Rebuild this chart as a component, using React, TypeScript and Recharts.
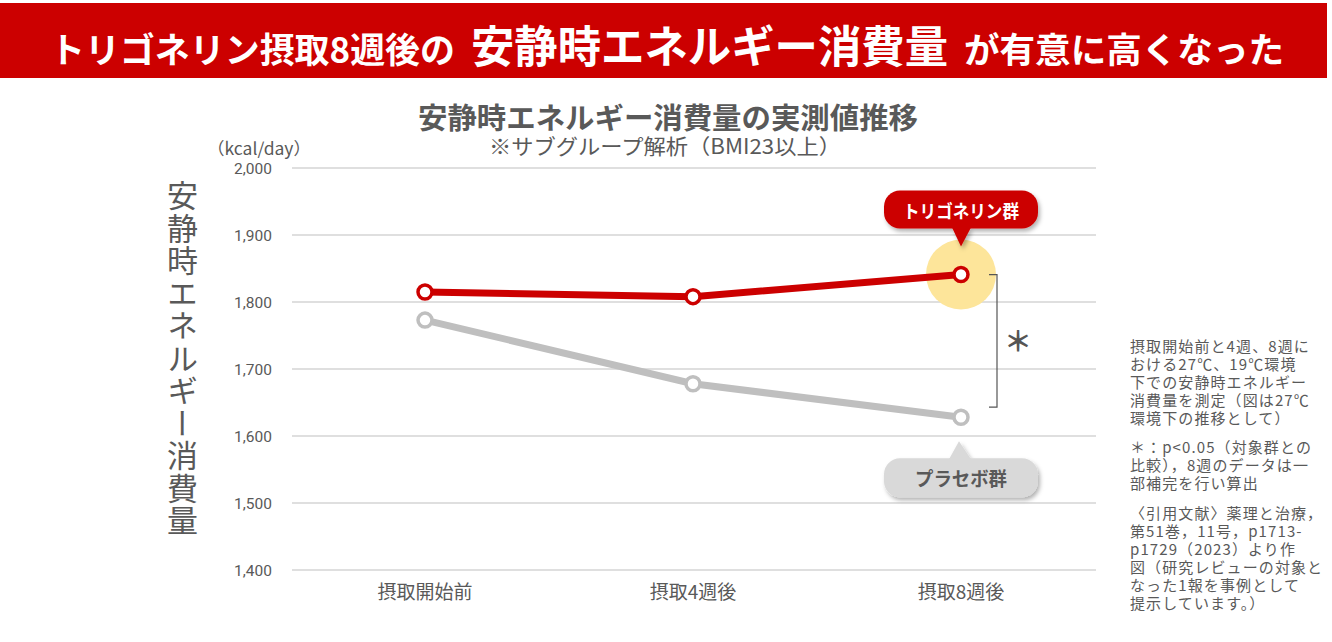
import React from 'react';
import { LineChart, Line, XAxis, YAxis, CartesianGrid, ReferenceDot, ReferenceLine } from 'recharts';

const categories = ['摂取開始前', '摂取4週後', '摂取8週後'];
const trigonelline = [1815, 1808, 1841];
const placebo = [1773, 1678, 1628];
const yTicks = [1400, 1500, 1600, 1700, 1800, 1900, 2000];
const bracketBottom = 1643;

const notesP1 = [
  '摂取開始前と4週、8週に',
  'おける27℃、19℃環境',
  '下での安静時エネルギー',
  '消費量を測定（図は27℃',
  '環境下の推移として）',
];
const notesP2 = ['＊：p<0.05（対象群との', '比較），8週のデータは一', '部補完を行い算出'];
const notesP3 = [
  '〈引用文献〉薬理と治療，',
  '第51巻，11号，p1713-',
  'p1729（2023）より作',
  '図（研究レビューの対象と',
  'なった1報を事例として',
  '提示しています。）',
];

const data = categories.map((label, i) => ({
  label,
  trigonelline: trigonelline[i],
  placebo: placebo[i],
}));

const JP = '"Noto Sans CJK JP", "Noto Sans", sans-serif';
const RED = '#cc0000';
const GRAY_LINE = '#bfbfbf';
const TEXT = '#595959';

const Shadow = ({ id }: { id: string }) => (
  <defs>
    <filter id={id} x="-20%" y="-40%" width="140%" height="190%">
      <feDropShadow dx="2" dy="3" stdDeviation="2" floodColor="#000" floodOpacity="0.3" />
    </filter>
  </defs>
);

const Highlight = (props: any) => {
  const { cx, cy } = props;
  if (cx == null || cy == null) return null;
  return <circle cx={cx} cy={cy} r={35} fill="#fde59a" />;
};

const RedCallout = (props: any) => {
  const { cx, cy } = props;
  if (cx == null || cy == null) return null;
  const top = cy - 84;
  const bottom = cy - 46;
  const left = cx - 77;
  return (
    <g>
      <Shadow id="redShadow" />
      <g filter="url(#redShadow)">
        <rect x={left} y={top} width={154} height={bottom - top} rx={16} ry={16} fill={RED} />
        <polygon points={`${cx - 9},${bottom - 1} ${cx + 10},${bottom - 1} ${cx},${cy - 28}`} fill={RED} />
      </g>
      <text
        x={cx}
        y={(top + bottom) / 2}
        textAnchor="middle"
        dominantBaseline="central"
        fontFamily={JP}
        fontSize={18}
        fontWeight={700}
        fill="#ffffff"
        textLength={116}
        lengthAdjust="spacingAndGlyphs"
      >
        トリゴネリン群
      </text>
    </g>
  );
};

const GrayCallout = (props: any) => {
  const { cx, cy } = props;
  if (cx == null || cy == null) return null;
  const top = cy + 41;
  const bottom = cy + 80;
  const left = cx - 77;
  return (
    <g>
      <Shadow id="grayShadow" />
      <g filter="url(#grayShadow)">
        <rect x={left} y={top} width={154} height={bottom - top} rx={16} ry={16} fill="#d9d9d9" />
        <polygon points={`${cx - 12},${top + 1} ${cx + 10},${top + 1} ${cx - 2},${cy + 24}`} fill="#d9d9d9" />
      </g>
      <text
        x={cx}
        y={(top + bottom) / 2}
        textAnchor="middle"
        dominantBaseline="central"
        fontFamily={JP}
        fontSize={19}
        fontWeight={700}
        fill={TEXT}
        textLength={92}
        lengthAdjust="spacingAndGlyphs"
      >
        プラセボ群
      </text>
    </g>
  );
};

const Bracket = (props: any) => {
  const { x1, y1, y2 } = props;
  if (x1 == null) return null;
  const x = x1 + 36;
  return (
    <g>
      <path d={`M${x - 8},${y1} H${x} V${y2} H${x - 8}`} fill="none" stroke="#555555" strokeWidth={1.2} />
      <text
        x={x + 21}
        y={(y1 + y2) / 2 - 1}
        textAnchor="middle"
        dominantBaseline="central"
        fontFamily={JP}
        fontSize={28}
        fontWeight={700}
        fill="#555555"
      >
        ＊
      </text>
    </g>
  );
};

const noteLine = (t: string, y: number) => (
  <text key={t} x={1130} y={y} dominantBaseline="central" fontFamily={JP} fontSize={15} letterSpacing={1.1} fill={TEXT}>
    {t}
  </text>
);

export default function App() {
  return (
    <div style={{ position: 'absolute', left: 0, top: 0, width: 1332, height: 642, background: '#fff' }}>
      <svg width={1332} height={642} style={{ position: 'absolute', left: 0, top: 0 }}>
        <rect x={0} y={3} width={1327} height={75} fill={RED} />
        <text x={50} y={47} dominantBaseline="central" fontFamily={JP} fontSize={35} fontWeight={700} fill="#fff" textLength={405} lengthAdjust="spacingAndGlyphs">
          トリゴネリン摂取8週後の
        </text>
        <text x={471} y={44} dominantBaseline="central" fontFamily={JP} fontSize={44} fontWeight={700} fill="#fff" textLength={477} lengthAdjust="spacingAndGlyphs">
          安静時エネルギー消費量
        </text>
        <text x={964} y={47} dominantBaseline="central" fontFamily={JP} fontSize={35} fontWeight={700} fill="#fff" textLength={320} lengthAdjust="spacingAndGlyphs">
          が有意に高くなった
        </text>
        <text x={668} y={116} textAnchor="middle" dominantBaseline="central" fontFamily={JP} fontSize={29} fontWeight={700} fill={TEXT} textLength={500} lengthAdjust="spacingAndGlyphs">
          安静時エネルギー消費量の実測値推移
        </text>
        <text x={665} y={145} textAnchor="middle" dominantBaseline="central" fontFamily={JP} fontSize={21} fill={TEXT} textLength={352} lengthAdjust="spacingAndGlyphs">
          ※サブグループ解析（BMI23以上）
        </text>
        <text x={207} y={147} dominantBaseline="central" fontFamily={JP} fontSize={17} fill={TEXT} textLength={104} lengthAdjust="spacingAndGlyphs">
          （kcal/day）
        </text>
        {notesP1.map((t, i) => noteLine(t, 345 + i * 18))}
        {notesP2.map((t, i) => noteLine(t, 446 + i * 18))}
        {notesP3.map((t, i) => noteLine(t, 512 + i * 18))}
      </svg>
      <div
        style={{
          position: 'absolute',
          left: 166,
          top: 180,
          writingMode: 'vertical-rl',
          fontFamily: JP,
          fontSize: 31,
          lineHeight: '32px',
          letterSpacing: 1.5,
          color: TEXT,
          whiteSpace: 'nowrap',
        }}
      >
        安静時エネルギー消費量
      </div>
      <div style={{ position: 'absolute', left: 0, top: 0 }}>
        <LineChart width={1332} height={642} data={data} margin={{ top: 168, right: 236, bottom: 42, left: 232 }}>
          <CartesianGrid vertical={false} stroke="#bfbfbf" strokeWidth={1} />
          <XAxis
            dataKey="label"
            padding={{ left: 133, right: 135 }}
            axisLine={false}
            tickLine={false}
            tickSize={0}
            tickMargin={16}
            height={30}
            tick={{ fontSize: 19, fill: TEXT, fontFamily: JP }}
          />
          <YAxis
            domain={[1400, 2000]}
            ticks={yTicks}
            interval={0}
            width={60}
            axisLine={false}
            tickLine={false}
            tickSize={0}
            tickMargin={20}
            tickFormatter={(v: number) => v.toLocaleString('en-US')}
            tick={{ fontSize: 15.5, fill: TEXT, fontFamily: 'Roboto, sans-serif' }}
          />
          <ReferenceDot x={categories[2]} y={trigonelline[2]} r={35} shape={Highlight} zIndex={50} />
          <Line
            type="linear"
            dataKey="placebo"
            stroke={GRAY_LINE}
            strokeWidth={7}
            dot={{ r: 7, fill: '#fff', stroke: GRAY_LINE, strokeWidth: 3.5 }}
            activeDot={false}
            isAnimationActive={false}
          />
          <Line
            type="linear"
            dataKey="trigonelline"
            stroke={RED}
            strokeWidth={7}
            dot={{ r: 7, fill: '#fff', stroke: RED, strokeWidth: 3.5 }}
            activeDot={false}
            isAnimationActive={false}
          />
          <ReferenceLine
            segment={[
              { x: categories[2], y: trigonelline[2] },
              { x: categories[2], y: bracketBottom },
            ]}
            shape={Bracket}
          />
          <ReferenceDot x={categories[2]} y={trigonelline[2]} r={1} shape={RedCallout} zIndex={2000} />
          <ReferenceDot x={categories[2]} y={placebo[2]} r={1} shape={GrayCallout} zIndex={2000} />
        </LineChart>
      </div>
    </div>
  );
}
